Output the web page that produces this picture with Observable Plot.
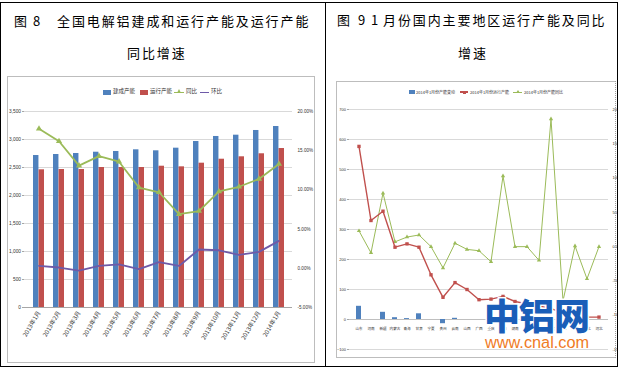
<!DOCTYPE html>
<html><head><meta charset="utf-8">
<script src="https://cdn.jsdelivr.net/npm/d3@7"></script>
<script src="https://cdn.jsdelivr.net/npm/@observablehq/plot@0.6"></script>
<style>
html,body{margin:0;padding:0;background:#fff;}
#page{position:relative;width:618px;height:373px;overflow:hidden;background:#fff;font-family:"Noto Sans CJK SC",sans-serif;}
.ab{position:absolute;white-space:nowrap;}
.h{font-size:13px;line-height:13px;color:#000;}
.rule{position:absolute;background:#000;}
.clip{position:absolute;overflow:hidden;background:#fff;}
.clip svg{position:absolute;left:0;top:0;}
.gb{position:absolute;background:#bdbdbd;}
</style></head><body><div id="page"></div>
<script>
// ---------- Left chart data ----------
const months = ["2013年1月","2013年2月","2013年3月","2013年4月","2013年5月","2013年6月","2013年7月","2013年8月","2013年9月","2013年10月","2013年11月","2013年12月","2014年1月"];
const builtCapacity = [2714,2732,2750,2773,2786,2816,2798,2845,2964,3054,3077,3161,3232];
const runningCapacity = [2459,2464,2464,2500,2500,2500,2523,2512,2577,2648,2691,2745,2839];
const yoyGrowth = [17.8,16.2,13.1,14.3,13.6,10.3,9.7,6.9,7.3,9.8,10.4,11.4,13.3];
const momGrowth = [0.3,0.1,-0.3,0.3,0.5,-0.1,0.8,0.3,2.4,2.3,1.7,2.1,3.5];
const leftTicks = [0,500,1000,1500,2000,2500,3000,3500];
const leftPctTicks = [-5,0,5,10,15,20];
const leftSeries = ["建成产能","运行产能","同比","环比"];

// ---------- Right chart data ----------
const regions = ["山东","河南","新疆","内蒙古","青海","甘肃","宁夏","贵州","云南","山西","广西","重庆","陕西","湖南","四川","辽宁","福建","浙江","江苏","湖北","河北"];
const capChange = [44,0,24,6,3,19,0,-14,4,0,0,0,0,0,0,0,0,0,0,0,0];
const regionRunning = [577,330,361,241,252,241,149,74,123,100,66,68,77,60,52,45,36,22,12,8,8];
const regionYoY = [23,-9,78,7,14,17,0,-31,5,-4,-6,-22,103,0,0,-20,186,-79,1,-47,0];
const rightTicks = [-100,0,100,200,300,400,500,600,700];
const rightPctTicks = [-150,-100,-50,0,50,100,150,200];
const rightSeries = ["2014年1月份产能变动","2014年1月份运行产能","2014年1月份产能同比"];

const C = {blue:"#4f81bd", red:"#c0504d", green:"#9bbb59", purple:"#6e5aa8"};
const page = document.getElementById("page");
function el(cls, css, html){const d=document.createElement("div");d.className=cls;Object.assign(d.style,css);if(html!=null)d.innerHTML=html;page.appendChild(d);return d;}

// ---------- table lines ----------
el("rule",{left:"0px",top:"2px",width:"618px",height:"1px"});
el("rule",{left:"0px",top:"366px",width:"618px",height:"1px"});
el("rule",{left:"0px",top:"2px",width:"1px",height:"365px"});
el("rule",{left:"617px",top:"2px",width:"1px",height:"365px"});
el("rule",{left:"325px",top:"2px",width:"1px",height:"365px"});

// ---------- headers ----------
el("ab h",{left:"14px",top:"14px"},"图");
el("ab h",{left:"33px",top:"14px"},"8");
el("ab h",{left:"57px",top:"14px",letterSpacing:"1.9px"},"全国电解铝建成和运行产能及运行产能");
el("ab h",{left:"127px",top:"46px",letterSpacing:"1.9px"},"同比增速");
el("ab h",{left:"337px",top:"13px"},"图");
el("ab h",{left:"358px",top:"13px"},"9");
el("ab h",{left:"371px",top:"13px"},"1");
el("ab h",{left:"383px",top:"13px",letterSpacing:"1.9px"},"月份国内主要地区运行产能及同比");
el("ab h",{left:"458px",top:"46px",letterSpacing:"1.9px"},"增速");

// ---------- Left chart ----------
const L = months.map((m,i)=>({m, built:builtCapacity[i], run:runningCapacity[i], yoy:yoyGrowth[i], mom:momGrowth[i]}));
const lY = [leftTicks[0], leftTicks[leftTicks.length-1]];
const lP = [leftPctTicks[0], leftPctTicks[leftPctTicks.length-1]];
const toL = p => (p - lP[0])/(lP[1]-lP[0])*(lY[1]-lY[0]) + lY[0];
const fromL = v => (v - lY[0])/(lY[1]-lY[0])*(lP[1]-lP[0]) + lP[0];
const LW=306, LH=285, LML=16, LMR=22, LMT=34, LMB=55, LPAD=0.46;
const halfL = (LW-LML-LMR)/months.length*(1-LPAD)/2;
const leftPlot = Plot.plot({
  width:LW, height:LH, marginLeft:LML, marginRight:LMR, marginTop:LMT, marginBottom:LMB,
  style:{fontFamily:'"Liberation Sans","Noto Sans CJK SC",sans-serif', fontSize:"5.5px", background:"white", color:"#333"},
  x:{type:"band", domain:months, paddingInner:LPAD, paddingOuter:LPAD/2},
  y:{domain:lY},
  marks:[
    Plot.gridY(leftTicks,{stroke:"#d9d9d9", strokeOpacity:1}),
    Plot.barY(L,{x:"m", y:"built", fill:C.blue, insetRight:halfL}),
    Plot.barY(L,{x:"m", y:"run", fill:C.red, insetLeft:halfL}),
    Plot.ruleY([0],{stroke:"#a6a6a6"}),
    Plot.lineY(L,{x:"m", y:d=>toL(d.mom), stroke:C.purple, strokeWidth:1.8}),
    Plot.lineY(L,{x:"m", y:d=>toL(d.yoy), stroke:C.green, strokeWidth:1.8}),
    Plot.dot(L,{x:"m", y:d=>toL(d.yoy), symbol:"triangle", r:2.3, fill:C.green}),
    Plot.axisY(leftTicks,{anchor:"left", tickSize:2, tickPadding:1.5, stroke:"#a6a6a6", fill:"#333", fontSize:4.8, label:null}),
    Plot.axisY(leftPctTicks.map(toL),{anchor:"right", tickSize:0, tickPadding:5, fill:"#333", fontSize:4.6, label:null, tickFormat:d=>fromL(d).toFixed(2)+"%"}),
    Plot.axisX({tickRotate:-60, tickSize:0, tickPadding:4, label:null, fontSize:6, fill:"#333", fontFamily:'"Noto Sans CJK SC",sans-serif'})
  ]
});
const lc = el("clip",{left:"8px",top:"77px",width:LW+"px",height:LH+"px"});
lc.appendChild(leftPlot);
el("gb",{left:"7px",top:"76px",width:"308px",height:"1px"});
el("gb",{left:"7px",top:"362px",width:"308px",height:"1px"});
el("gb",{left:"7px",top:"76px",width:"1px",height:"287px"});
el("gb",{left:"314px",top:"76px",width:"1px",height:"287px"});

// left legend
const lgL = {fontSize:"5.5px", lineHeight:"5.5px", color:"#333"};
el("ab",{left:"103px",top:"90px",width:"8px",height:"4.5px",background:C.blue});
el("ab",Object.assign({left:"113px",top:"89px"},lgL),leftSeries[0]);
el("ab",{left:"140px",top:"90px",width:"8px",height:"4.5px",background:C.red});
el("ab",Object.assign({left:"150px",top:"89px"},lgL),leftSeries[1]);
el("ab",{left:"174px",top:"91.5px",width:"10px",height:"1.6px",background:C.green});
el("ab",{left:"176.5px",top:"89.3px",width:"0",height:"0",borderLeft:"2.5px solid transparent",borderRight:"2.5px solid transparent",borderBottom:"4px solid "+C.green});
el("ab",Object.assign({left:"186px",top:"89px"},lgL),leftSeries[2]);
el("ab",{left:"200px",top:"91.5px",width:"9px",height:"1.6px",background:C.purple});
el("ab",Object.assign({left:"211px",top:"89px"},lgL),leftSeries[3]);

// ---------- Right chart ----------
const R = regions.map((r,i)=>({r, chg:capChange[i], run:regionRunning[i], yoy:regionYoY[i]}));
const rY = [rightTicks[0], rightTicks[rightTicks.length-1]];
const rP = [rightPctTicks[0], rightPctTicks[rightPctTicks.length-1]];
const toR = p => (p - rP[0])/(rP[1]-rP[0])*(rY[1]-rY[0]) + rY[0];
const fromR = v => Math.round((v - rY[0])/(rY[1]-rY[0])*(rP[1]-rP[0]) + rP[0]);
const RW=280, RH=275, RML=12, RMR=9, RMT=27, RMB=8;
const rightPlot = Plot.plot({
  width:RW, height:RH, marginLeft:RML, marginRight:RMR, marginTop:RMT, marginBottom:RMB,
  style:{fontFamily:'"Liberation Sans","Noto Sans CJK SC",sans-serif', fontSize:"4px", background:"white", color:"#333"},
  x:{type:"band", domain:regions, paddingInner:0.55, paddingOuter:0.275, axis:null},
  y:{domain:rY, axis:null},
  marks:[
    Plot.gridY(rightTicks,{stroke:"#d9d9d9", strokeOpacity:1}),
    Plot.ruleY([0],{stroke:"#bfbfbf"}),
    Plot.barY(R,{x:"r", y:"chg", fill:C.blue}),
    Plot.lineY(R,{x:"r", y:d=>toR(d.yoy), stroke:C.green, strokeWidth:1}),
    Plot.dot(R,{x:"r", y:d=>toR(d.yoy), symbol:"triangle", r:1.6, fill:C.green}),
    Plot.lineY(R,{x:"r", y:"run", stroke:C.red, strokeWidth:1.4}),
    Plot.dot(R,{x:"r", y:"run", symbol:"square", r:1.9, fill:C.red}),
    Plot.text(R,{x:"r", y:0, text:"r", dy:9, fontSize:3.6, fill:"#333", fontFamily:'"Noto Sans CJK SC",sans-serif'}),
    Plot.axisY(rightTicks,{anchor:"left", tickSize:2, tickPadding:1.5, stroke:"#a6a6a6", fill:"#333", label:null}),
    Plot.axisY(rightPctTicks.map(toR),{anchor:"right", tickSize:0, tickPadding:4, fill:"#333", label:null, tickFormat:d=>fromR(d).toFixed(2)+"%"})
  ]
});
const rc = el("clip",{left:"337px",top:"82px",width:RW+"px",height:RH+"px"});
rc.appendChild(rightPlot);
el("gb",{left:"336px",top:"81px",width:"280px",height:"1px"});
el("gb",{left:"336px",top:"357px",width:"280px",height:"1px"});
el("gb",{left:"336px",top:"81px",width:"1px",height:"277px"});
el("ab",{left:"615px",top:"81px",width:"0",height:"277px",borderLeft:"1px dotted #9e9e9e"});

// right legend
const lgR = {fontSize:"4px", lineHeight:"4px", color:"#333"};
el("ab",{left:"409px",top:"90px",width:"6px",height:"4px",background:C.blue});
el("ab",Object.assign({left:"416px",top:"90px"},lgR),rightSeries[0]);
el("ab",{left:"460px",top:"91.4px",width:"8px",height:"1.4px",background:C.red});
el("ab",{left:"462.5px",top:"90.5px",width:"3px",height:"3px",background:C.red});
el("ab",Object.assign({left:"470px",top:"90px"},lgR),rightSeries[1]);
el("ab",{left:"513px",top:"91.6px",width:"9px",height:"1px",background:C.green});
el("ab",{left:"515.5px",top:"90px",width:"0",height:"0",borderLeft:"2px solid transparent",borderRight:"2px solid transparent",borderBottom:"3px solid "+C.green});
el("ab",Object.assign({left:"524px",top:"90px"},lgR),rightSeries[2]);

// ---------- watermark ----------
el("ab",{left:"484px",top:"296px",fontSize:"36px",lineHeight:"36px",fontWeight:"900",letterSpacing:"-1px",color:"#1a5eb8",webkitTextStroke:"3px #fff",paintOrder:"stroke fill"},"中铝网");
el("ab",{left:"485px",top:"334px",fontSize:"16.3px",lineHeight:"16px",fontFamily:'"Liberation Sans",sans-serif',color:"#ef7b1f",webkitTextStroke:"2px #fff",paintOrder:"stroke fill"},"www.cnal.com");
</script></body></html>
